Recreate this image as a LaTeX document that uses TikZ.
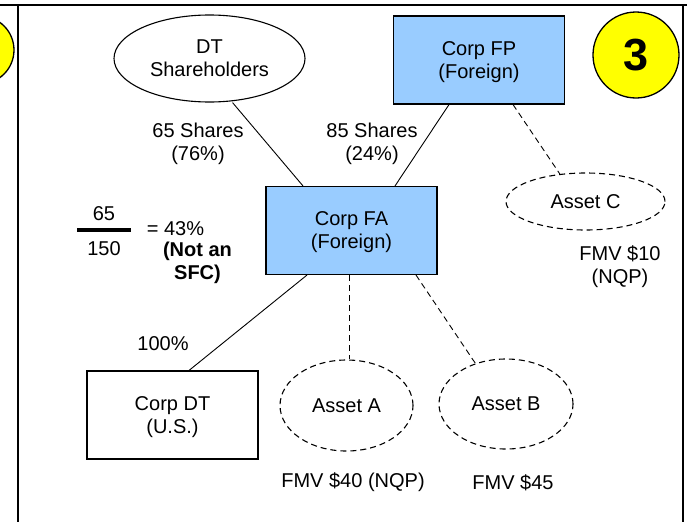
\documentclass[tikz,border=0pt]{standalone}
\usepackage{fontspec}
\setmainfont{Liberation Sans}
\usepackage{tikz}
\definecolor{fcorp}{HTML}{99CCFF}
\definecolor{badgey}{HTML}{FFFF00}
\tikzset{
    corp/.style={draw, rectangle, line width=1.1pt, minimum width=171pt, minimum height=88pt, align=center, text depth=0pt},
    foreign/.style={fill=fcorp},
    holders/.style={draw, ellipse, line width=1.1pt, align=center, inner sep=0pt, text depth=0pt},
    asset/.style={draw, ellipse, dash pattern=on 6pt off 4pt, line width=1.1pt, inner sep=0pt},
    note/.style={align=center},
    badge/.style={draw, circle, fill=badgey, line width=1.3pt, inner sep=0pt},
    owns/.style = {line width=0.9pt},
    holds/.style = {line width=0.9pt, dash pattern=on 6pt off 4pt},
    panel/.style = {line width=2pt} }
\usetikzlibrary{positioning, shapes.geometric}

\begin{document}
\begin{tikzpicture}[x=1pt, y=-1pt, font=\fontsize{20}{23}\selectfont]
            \useasboundingbox (0,0) rectangle (687,522);
            % ---- panel
            \node[badge, minimum size=68pt] (n2) at (-20,50) {};
            \draw[panel] (0,5) -- (687,5);
            \draw[panel] (18,5) -- (18,522);
            \draw[panel] (683,5) -- (683,522);
            \node[badge, minimum size=86pt, font=\fontsize{45}{50}\selectfont\bfseries] (n3) at (636,55) {3};
            % ---- entities
            \node[holders, minimum width=191pt, minimum height=87pt] (S) at (209.5,58.5) {DT\\Shareholders};
            \node[corp, foreign] (P) at (479,60) {Corp FP\\(Foreign)};
            \node[corp, foreign] (F) at (351.5,230.5) {Corp FA\\(Foreign)};
            \node[corp] (D) at (172.5,415) {Corp DT\\(U.S.)};
            \node[asset, minimum width=133pt, minimum height=91pt] (a) at (346.5,405.5) {Asset A};
            \node[asset, minimum width=134pt, minimum height=90pt] (b) at (506,404) {Asset B};
            \node[asset, minimum width=159pt, minimum height=57pt] (c) at (585.5,201.5) {Asset C};
            % ---- labels
            \node[note] (sS) at (198,144) {65 Shares\\(76\%)};
            \node[note] (sP) at (372,144) {85 Shares\\(24\%)};
            \node[note] (sD) at (163,344) {100\%};
            \node (num) at (104,214) {65};
            \node (den) at (104,249) {150};
            \draw[line width=4pt] (77,230) -- (131,230);
            \node (pct) at (175.5,229) {= 43\%};
            \node[note, font=\fontsize{20}{23}\selectfont\bfseries] (sfc) at (197.5,263) {(Not an\\SFC)};
            \node (va) at (353,482) {FMV \$40 (NQP)};
            \node (vb) at (513,483) {FMV \$45};
            \node[note] (vc) at (620,267) {FMV \$10\\(NQP)};
            % ----
            \path[owns]
                ([xshift=23pt]S.south) edge ([xshift=-48.5pt]F.north)
                ([xshift=-30pt]P.south) edge ([xshift=43.5pt]F.north)
                ([xshift=-44.5pt]F.south) edge ([xshift=16.5pt]D.north);
            \path[holds]
                ([xshift=34pt]P.south) edge (c.133)
                ([xshift=-2.5pt]F.south) edge ([xshift=2.5pt]a.north)
                ([xshift=64.5pt]F.south) edge (b.127);
\end{tikzpicture}
\end{document}
